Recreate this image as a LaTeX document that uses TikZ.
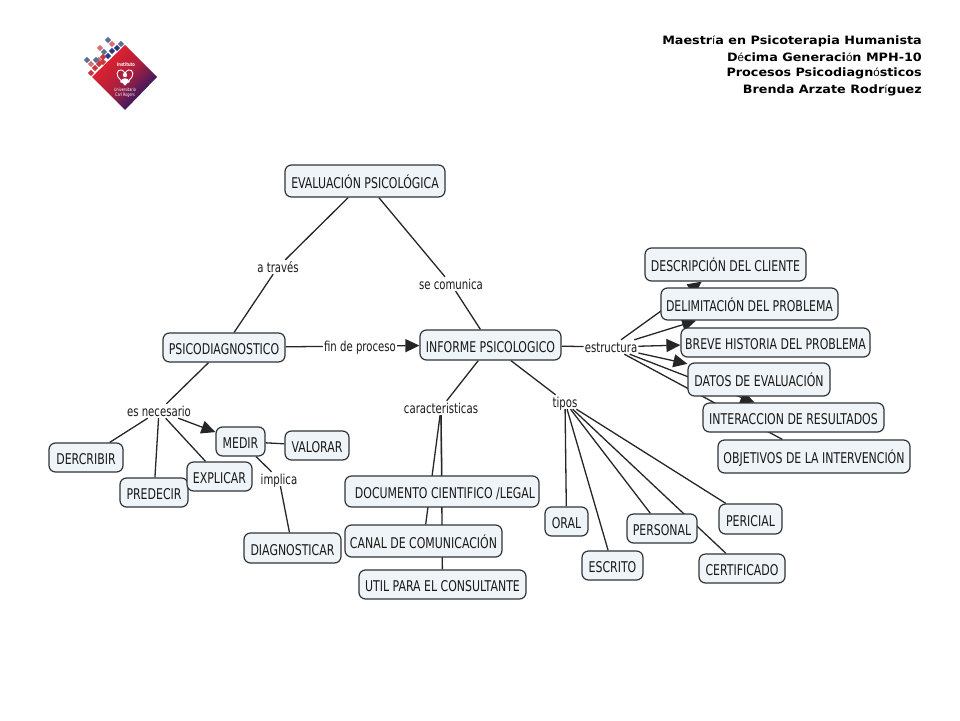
\documentclass[tikz,border=0pt]{standalone}
\usepackage{fontspec}
\setmainfont[FakeStretch=0.74]{DejaVu Sans}
\newfontfamily\hdrb[FakeStretch=1.11]{DejaVu Sans Bold}
\newfontfamily\hdrt[FakeStretch=1.0]{Liberation Sans}
\newcommand{\thin}[1]{{\hdrt #1}}
\usetikzlibrary{arrows.meta,backgrounds}
\definecolor{boxfill}{HTML}{EEF4F7}
\definecolor{boxline}{HTML}{2E3438}
\definecolor{logored}{HTML}{EE2229}
\definecolor{logoblue}{HTML}{17186B}
\definecolor{sqslate}{HTML}{5A6E9A}
\definecolor{sqpink}{HTML}{D9706F}
\definecolor{sqnavy}{HTML}{2B3A86}
\definecolor{sqred}{HTML}{C9353B}
\tikzset{
  x=1pt,y=-1pt,
  box/.style={rectangle,rounded corners=6.5pt,draw=boxline,line width=1.2pt,fill=boxfill,inner sep=0pt,text=black!90,text height=14pt,text depth=0pt,font=\fontsize{14.8}{16}\selectfont},
  lab/.style={rectangle,inner sep=1pt,text=black!90,text height=11pt,text depth=1pt,font=\fontsize{13.7}{15}\selectfont},
  conn/.style={draw=black!85,line width=1.3pt},
  arr/.style={conn,-{Triangle[length=14pt,width=13pt]}},
  hdr/.style={anchor=east,inner sep=0pt,font=\fontsize{11.5}{13}\hdrb},
  sq/.style={rectangle,rotate=45,minimum size=4.5pt,inner sep=0pt}
}
\begin{document}
\begin{tikzpicture}
\useasboundingbox (0,0) rectangle (960,720);
% logo
\shade[top color=logored,bottom color=logoblue,middle color=logored!70!logoblue,shading angle=45] (125,45) -- (157,77) -- (125,110) -- (92,77) -- cycle;
\foreach \x/\y/\c in {108/40/sqslate,112/44/sqpink,121/44/sqslate,100/48/sqpink,117/48/sqnavy,112/51/sqnavy,
  104/52/sqslate,108/56/sqnavy,103/57/sqred,99/60/sqpink,96/60/sqslate,87/60/sqslate,91/64/sqpink,99/64/sqred,
  95/68/sqred,91/73/sqred,103/62/sqred}{
  \node[sq,fill=\c] (s\x\y) at (\x,\y) {};
}
\node[inner sep=0pt,text=white,font=\fontsize{5}{6}\bfseries] (logoa) at (126,65) {Instituto};
\draw[white,fill=logored!70!logoblue,line width=0.9pt] (125,73) .. controls (120,66) and (115,72) .. (118,77) -- (125,85) -- (132,77) .. controls (135,72) and (130,66) .. (125,73) -- cycle;
\fill[white] (125,75) circle (2.2) (120,82) .. controls (122,77) and (128,77) .. (130,82) -- (125,84) -- cycle;
\node[inner sep=0pt,align=center,text=white,font=\fontsize{4.6}{5}\selectfont] (logob) at (125,92.5) {Universitario\\Carl Rogers};
% header
\node[hdr] (h1) at (922,41) {Maestr\thin{í}a en Psicoterapia Humanista};
\node[hdr] (h2) at (922,57) {D\thin{é}cima Generaci\thin{ó}n MPH-10};
\node[hdr] (h3) at (922,73) {Procesos Psicodiagn\thin{ó}sticos};
\node[hdr] (h4) at (922,90) {Brenda Arzate Rodr\thin{í}guez};
% concepts
\node[box,minimum width=160pt,minimum height=32pt] (eval) at (365,181) {EVALUACIÓN PSICOLÓGICA};
\node[box,minimum width=122pt,minimum height=29pt] (psico) at (224,347.5) {PSICODIAGNOSTICO};
\node[box,minimum width=141pt,minimum height=30pt] (inf) at (490.5,345) {INFORME PSICOLOGICO};
\node[box,minimum width=161pt,minimum height=33pt] (desc) at (725.5,264.5) {DESCRIPCIÓN DEL CLIENTE};
\node[box,minimum width=177pt,minimum height=32pt] (delim) at (749.5,304) {DELIMITACIÓN DEL PROBLEMA};
\node[box,minimum width=189pt,minimum height=29pt] (breve) at (775.5,342.5) {BREVE HISTORIA DEL PROBLEMA};
\node[box,minimum width=142pt,minimum height=33pt] (datos) at (759,379.5) {DATOS DE EVALUACIÓN};
\node[box,minimum width=181pt,minimum height=29pt] (inter) at (793.5,417.5) {INTERACCION DE RESULTADOS};
\node[box,minimum width=192pt,minimum height=33pt] (obj) at (814,456.5) {OBJETIVOS DE LA INTERVENCIÓN};
\node[box,minimum width=74pt,minimum height=29pt] (dercr) at (86,457.5) {DERCRIBIR};
\node[box,minimum width=68pt,minimum height=29pt] (pred) at (154,492.5) {PREDECIR};
\node[box,minimum width=65pt,minimum height=29pt] (expl) at (219.5,476.5) {EXPLICAR};
\node[box,minimum width=49pt,minimum height=29pt] (medir) at (240.5,441.5) {MEDIR};
\node[box,minimum width=64pt,minimum height=29pt] (valor) at (317,445.5) {VALORAR};
\node[box,minimum width=97pt,minimum height=30pt] (diag) at (292.5,548) {DIAGNOSTICAR};
\node[box,minimum width=194pt,minimum height=31pt] (doc) at (442,491.5) {\hspace{6pt}DOCUMENTO CIENTIFICO /LEGAL};
\node[box,minimum width=157pt,minimum height=32pt] (canal) at (423.5,541) {CANAL DE COMUNICACIÓN};
\node[box,minimum width=167pt,minimum height=29pt] (util) at (442.5,584.5) {UTIL PARA EL CONSULTANTE};
\node[box,minimum width=43pt,minimum height=29pt] (oral) at (566.5,521.5) {ORAL};
\node[box,minimum width=61pt,minimum height=29pt] (escr) at (612.5,565.5) {ESCRITO};
\node[box,minimum width=70pt,minimum height=29pt] (pers) at (662,528.5) {PERSONAL};
\node[box,minimum width=63pt,minimum height=30pt] (peri) at (750.5,519) {PERICIAL};
\node[box,minimum width=86pt,minimum height=29pt] (cert) at (742,568.5) {CERTIFICADO};
% linking phrases
\node[lab] (ltra) at (278,267) {a través};
\node[lab] (lcom) at (451,284) {se comunica};
\node[lab] (lfin) at (360,346) {fin de proceso};
\node[lab] (lnec) at (159,411) {es necesario};
\node[lab] (limp) at (279,479) {implica};
\node[lab] (lcar) at (441,408) {caracteristicas};
\node[lab] (ltip) at (565,402) {tipos};
\node[lab] (lest) at (611,347) {estructura};
% connectors under the concepts
\begin{scope}[on background layer]
\draw[conn] (eval) -- (ltra);
\draw[conn] (ltra) -- (psico);
\draw[conn] (eval) -- (lcom);
\draw[conn] (lcom) -- (inf);
\draw[conn] (psico) -- (lfin);
\draw[arr] (lfin) -- (inf);
\draw[conn] (inf) -- (lest);
\draw[arr] (lest) -- (desc);
\draw[arr] (lest) -- (delim);
\draw[arr] (lest) -- (breve);
\draw[arr] (lest) -- (datos);
\draw[arr] (lest) -- (inter);
\draw[conn] (lest) -- (obj);
\draw[conn] (psico) -- (lnec);
\draw[conn] (lnec) -- (dercr);
\draw[conn] (lnec) -- (pred);
\draw[conn] (lnec) -- (expl);
\draw[arr] (lnec) -- (medir);
\draw[conn] (medir) -- (valor);
\draw[conn] (medir) -- (limp);
\draw[conn] (limp) -- (diag);
\draw[conn] (inf) -- (lcar);
\draw[conn] (lcar) -- (doc);
\draw[conn] (lcar) -- (canal);
\draw[conn] (lcar) -- (util);
\draw[conn] (inf) -- (ltip);
\draw[conn] (ltip) -- (oral);
\draw[conn] (ltip) -- (escr);
\draw[conn] (ltip) -- (pers);
\draw[conn] (ltip) -- (cert);
\draw[conn] (ltip) -- (peri);
\end{scope}
\end{tikzpicture}
\end{document}
